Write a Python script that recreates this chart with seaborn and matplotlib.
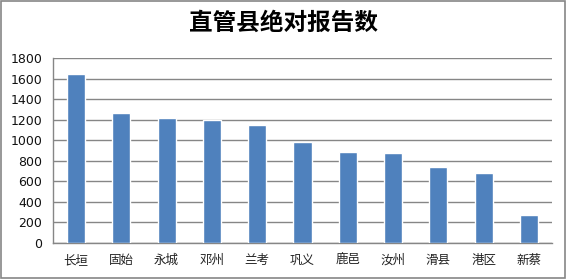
import matplotlib
matplotlib.use("Agg")
import matplotlib.pyplot as plt
from matplotlib.patches import Rectangle
from matplotlib.ticker import MultipleLocator, FixedLocator
import seaborn as sns
import pandas as pd

# Counties and their absolute report counts
counties = ["长垣", "固始", "永城", "邓州", "兰考", "巩义", "鹿邑", "汝州", "滑县", "港区", "新蔡"]
reports = [1645, 1265, 1215, 1200, 1150, 985, 887, 877, 740, 682, 273]
y_ticks = [0, 200, 400, 600, 800, 1000, 1200, 1400, 1600, 1800]

sns.set_theme(style="white")
plt.rcParams["font.family"] = ["Noto Sans CJK SC", "DejaVu Sans"]

grid_gray = "#868686"
bar_blue = "#4F81BD"

df = pd.DataFrame({"县": counties, "报告数": reports})

fig = plt.figure(figsize=(5.66, 2.79), dpi=100)
ax = fig.add_axes([0.0942, 0.129, 0.8805, 0.662])

sns.barplot(data=df, x="县", y="报告数", color=bar_blue, saturation=1,
            width=0.4, ax=ax, zorder=3)

ax.set_ylim(0, 1800)
ax.set_xlim(-0.5, len(counties) - 0.5)
ax.yaxis.set_major_locator(FixedLocator(y_ticks))
ax.set_yticklabels([str(v) for v in y_ticks], family="DejaVu Sans", fontsize=9)
ax.grid(axis="y", color=grid_gray, linewidth=1, zorder=0)
ax.set_axisbelow(True)

# category tick marks sit between bars
ax.xaxis.set_minor_locator(MultipleLocator(1, offset=0.5))
ax.set_xticks(range(len(counties)))
ax.set_xticklabels(counties, fontsize=9, color="#222222")
ax.tick_params(axis="x", which="major", length=0, pad=8)
ax.tick_params(axis="x", which="minor", length=5, width=1, color=grid_gray, direction="out")
ax.tick_params(axis="y", length=5, width=1, color=grid_gray, direction="out", pad=3, labelcolor="#111111")
ax.set_xlabel("")
ax.set_ylabel("")

for side in ["top", "right"]:
    ax.spines[side].set_visible(False)
for side in ["left", "bottom"]:
    ax.spines[side].set_color(grid_gray)
    ax.spines[side].set_linewidth(1)

fig.text(0.5, 0.92, "直管县绝对报告数", ha="center", va="center",
         fontsize=17, fontweight="bold", color="black")

# outer frame of the chart
fig.patches.append(Rectangle((0.002, 0.002), 0.996, 0.996, transform=fig.transFigure,
                             fill=False, edgecolor=grid_gray, linewidth=1.2))

fig.savefig("out.png", dpi=100)
